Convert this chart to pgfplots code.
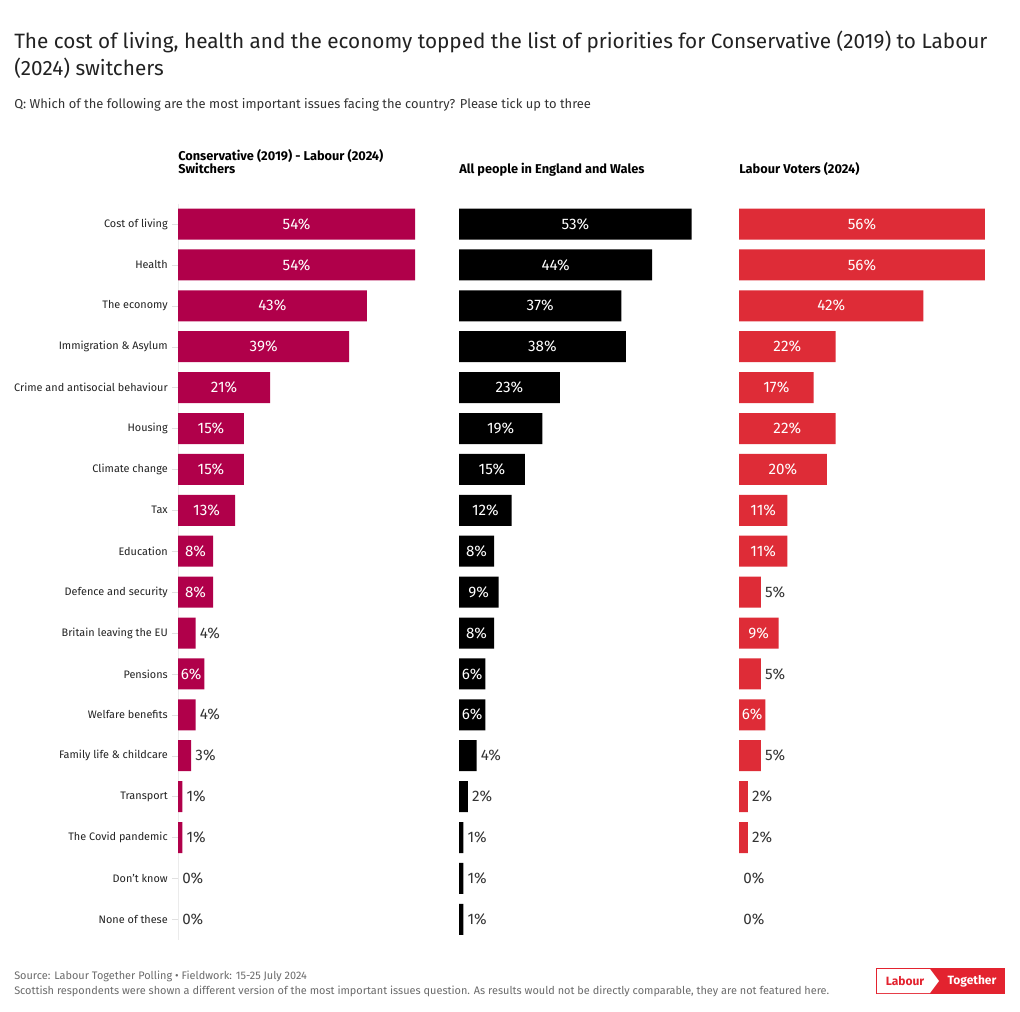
\documentclass[border=0pt]{standalone}
\usepackage{pgfplots}
\pgfplotsset{compat=1.18}
\usepackage{pgfplotstable}
\usepackage{fontspec}
\setmainfont{Fira Sans}
\definecolor{crim}{HTML}{B0004A}
\definecolor{lred}{HTML}{DE2C37}
\definecolor{txt}{HTML}{333333}
\definecolor{ttl}{HTML}{222222}
\definecolor{foot}{HTML}{6B6B6B}
\definecolor{logored}{HTML}{E3232F}

\pgfplotstableread{
i v
0 54
1 54
2 43
3 39
4 21
5 15
6 15
7 13
8 8
9 8
10 4
11 6
12 4
13 3
14 1
15 1
16 0
17 0
}\switch

\pgfplotstableread{
i v
0 53
1 44
2 37
3 38
4 23
5 19
6 15
7 12
8 8
9 9
10 8
11 6
12 6
13 4
14 2
15 1
16 1
17 1
}\allpeople

\pgfplotstableread{
i v
0 56
1 56
2 42
3 22
4 17
5 22
6 20
7 11
8 11
9 5
10 9
11 5
12 6
13 5
14 2
15 2
16 0
17 0
}\labour

\newcommand\valfont{\fontsize{11.4}{13}\selectfont}
\pgfplotsset{
  panel/.style={
    x=3.2925pt, y=30.675pt, y dir=reverse,
    xmin=0, xmax=56, ymin=-0.5, ymax=17.5,
    anchor=north west, clip=false,
  },
  bars/.style={xbar, fill=#1, draw=none, bar width=23.25pt},
  inlab/.style={draw=none, mark=none, point meta=explicit symbolic,
    nodes near coords={\pgfplotspointmeta\%},
    nodes near coords style={anchor=center, inner sep=0pt, text=white, font=\valfont},
  },
  outlab/.style={draw=none, mark=none, point meta=explicit symbolic,
    nodes near coords={\pgfplotspointmeta\%},
    nodes near coords style={anchor=west, inner sep=0pt, xshift=3pt, text=txt, font=\valfont},
  },
}

\newcommand\panelplots[2]{%
  \addplot[bars=#2, restrict expr to domain={\thisrow{v}}{0.5:100}] table[x=v, y=i] {#1};
  \addplot[inlab, restrict expr to domain={\thisrow{v}}{5.5:100}] table[x expr=\thisrow{v}/2, y=i, meta=v] {#1};
  \addplot[outlab, restrict expr to domain={\thisrow{v}}{-1:5.5}] table[x=v, y=i, meta=v] {#1};
}

\begin{document}
\begin{tikzpicture}
\fill[white] (0,0) rectangle (765pt,-759pt);

% titles
\node[anchor=base west, inner sep=0pt, text=ttl, font=\fontsize{15.55}{18}\selectfont] at (14*0.75pt,-49*0.75pt)
  {The cost of living, health and the economy topped the list of priorities for Conservative (2019) to Labour};
\node[anchor=base west, inner sep=0pt, text=ttl, font=\fontsize{15.55}{18}\selectfont] at (14*0.75pt,-76*0.75pt)
  {(2024) switchers};
\node[anchor=base west, inner sep=0pt, text=txt, font=\fontsize{9.7}{12}\selectfont] at (14*0.75pt,-108.5*0.75pt)
  {Q: Which of the following are the most important issues facing the country? Please tick up to three};

% panel titles
\node[anchor=base west, inner sep=0pt, text=black, font=\bfseries\fontsize{9.6}{12}\selectfont] at (178*0.75pt,-161*0.75pt)
  {Conservative (2019) - Labour (2024)};
\node[anchor=base west, inner sep=0pt, text=black, font=\bfseries\fontsize{9.6}{12}\selectfont] at (178*0.75pt,-174*0.75pt)
  {Switchers};
\node[anchor=base west, inner sep=0pt, text=black, font=\bfseries\fontsize{9.6}{12}\selectfont] at (459*0.75pt,-174*0.75pt)
  {All people in England and Wales};
\node[anchor=base west, inner sep=0pt, text=black, font=\bfseries\fontsize{9.6}{12}\selectfont] at (739*0.75pt,-174*0.75pt)
  {Labour Voters (2024)};

% panel 1
\begin{axis}[panel, at={(178*0.75pt,-203.55*0.75pt)},
  hide x axis, axis y line=left, axis line style={-, draw=black!8},
  ytick={0,...,17},
  yticklabels={{Cost of living},{Health},{The economy},{Immigration \& Asylum},{Crime and antisocial behaviour},{Housing},{Climate change},{Tax},{Education},{Defence and security},{Britain leaving the EU},{Pensions},{Welfare benefits},{Family life \& childcare},{Transport},{The Covid pandemic},{Don't know},{None of these}},
  tick align=outside, major tick length=4.5pt, ytick style={draw=black!12},
  yticklabel style={font=\fontsize{8.15}{10}\selectfont, text=ttl, inner sep=0pt, xshift=-3pt},
]
\panelplots{\switch}{crim}
\end{axis}

% panel 2
\begin{axis}[panel, at={(459*0.75pt,-203.55*0.75pt)}, hide axis]
\panelplots{\allpeople}{black}
\end{axis}

% panel 3
\begin{axis}[panel, at={(739*0.75pt,-203.55*0.75pt)}, hide axis]
\panelplots{\labour}{lred}
\end{axis}

% footer
\node[anchor=base west, inner sep=0pt, text=foot, font=\fontsize{8.2}{10}\selectfont] at (14*0.75pt,-979.5*0.75pt)
  {Source: Labour Together Polling • Fieldwork: 15-25 July 2024};
\node[anchor=base west, inner sep=0pt, text=foot, font=\fontsize{8.2}{10}\selectfont] at (14*0.75pt,-994.5*0.75pt)
  {Scottish respondents were shown a different version of the most important issues question. As results would not be directly comparable, they are not featured here.};

% logo
\fill[logored] (876*0.75pt,-968*0.75pt) rectangle (1005*0.75pt,-994*0.75pt);
\fill[white] (877*0.75pt,-969*0.75pt) -- (930*0.75pt,-969*0.75pt) -- (939*0.75pt,-981*0.75pt) -- (930*0.75pt,-993*0.75pt) -- (877*0.75pt,-993*0.75pt) -- cycle;
\node[anchor=center, inner sep=0pt, text=logored, font=\bfseries\fontsize{9}{11}\selectfont] at (905*0.75pt,-981*0.75pt) {Labour};
\node[anchor=center, inner sep=0pt, text=white, font=\bfseries\fontsize{9}{11}\selectfont] at (972*0.75pt,-981*0.75pt) {Together};

\pgfresetboundingbox
\path[use as bounding box] (0,0) rectangle (765pt,-759pt);
\end{tikzpicture}
\end{document}
